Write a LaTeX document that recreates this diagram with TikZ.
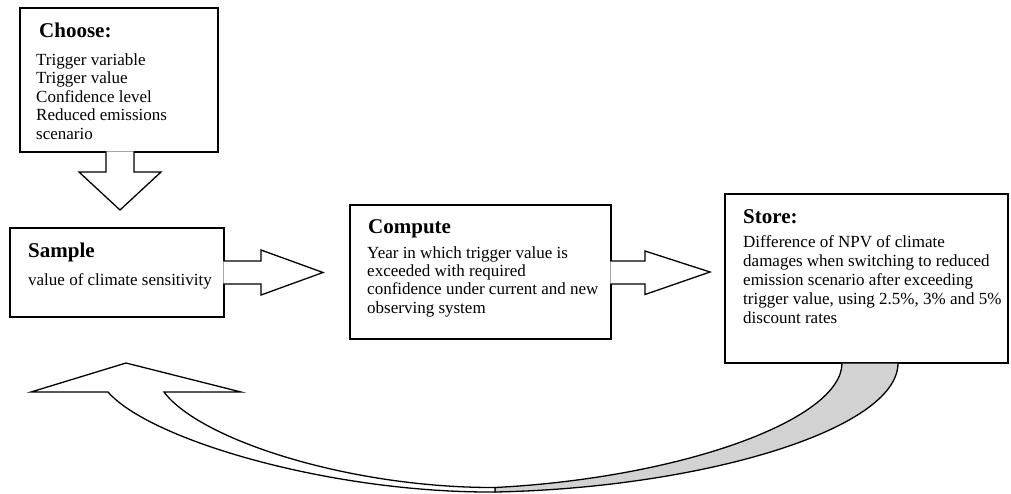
\documentclass[tikz,border=0pt]{standalone}
\usepackage{fontspec}
\setmainfont{Liberation Serif}
\usetikzlibrary{calc}
\tikzset{
  box/.style={draw,line width=1.3pt,fill=white,inner sep=0,outer sep=0},
  title/.style={font=\fontsize{21}{24}\selectfont\bfseries,inner sep=0,anchor=base west},
  body/.style={font=\fontsize{17}{18.5}\selectfont,inner sep=0,anchor=base west,align=left},
  fat arrow/.style={line width=1.3pt,fill=white,line join=miter},
  back arrow/.style={line width=1.3pt,line join=miter}
}
\begin{document}
\begin{tikzpicture}[x=1pt,y=-1pt]
    \useasboundingbox (0,0) rectangle (1011,493);
    % Boxes
    \node[box,minimum width=198pt,minimum height=144pt] (choose)  at (119,80)    {};
    \node[box,minimum width=214pt,minimum height=89pt]  (sample)  at (117,272.5) {};
    \node[box,minimum width=261pt,minimum height=134pt] (compute) at (480.5,272) {};
    \node[box,minimum width=283pt,minimum height=169pt] (store)   at (866.5,278.5) {};
    % Block arrows between the boxes
    \filldraw[fat arrow] ($(choose.south)+(-13,-0.7)$) -- ++(0,20.7) -- ++(-27,0)
      -- ($(choose.south)+(1,58)$) -- ($(choose.south)+(42,20)$) -- ++(-27,0) -- ++(0,-20.7);
    \filldraw[fat arrow] ($(sample.east)+(-0.7,-11.5)$) -- ++(37.7,0) -- ++(0,-11)
      -- ($(sample.east)+(99,0)$) -- ($(sample.east)+(37,22.5)$) -- ++(0,-11) -- ++(-37.7,0);
    \filldraw[fat arrow] ($(compute.east)+(-0.7,-11)$) -- ++(34.7,0) -- ++(0,-10)
      -- ($(compute.east)+(99,0)$) -- ($(compute.east)+(34,22.5)$) -- ++(0,-10.5) -- ++(-34.7,0);
    % Return arrow from store back to sample
    \coordinate (ret1) at ($(store.south west)+(117,0)$);
    \coordinate (ret2) at ($(store.south west)+(173,0)$);
    \coordinate (twistA) at (495,492);
    \coordinate (twistB) at (495,487.5);
    \coordinate (tip) at (126,363);
    \filldraw[back arrow,fill=gray!35] (ret2) .. controls +(0,67) and (700,488) .. (twistA)
      -- (twistB) .. controls (680,478) and ($(ret1)+(0,57)$) .. (ret1) -- cycle;
    \filldraw[back arrow,fill=white] (108,392) .. controls (150,440) and (330,493) .. (twistA)
      -- (twistB) .. controls (350,488) and (200,440) .. (164,392)
      -- (241,392) -- (tip) -- (31,392) -- cycle;
    % Labels (multi-line texts sit on the baseline of their last line)
    \node[title] (chooseT) at (39,37) {Choose:};
    \node[body] (chooseB) at (36,139) {Trigger variable\\Trigger value\\Confidence level\\Reduced emissions\\scenario};
    \node[title] (sampleT) at (28,257) {Sample};
    \node[body] (sampleB) at (28,285) {value of climate sensitivity};
    \node[title] (computeT) at (368,233) {Compute};
    \node[body,font=\fontsize{17}{18.3}\selectfont] (computeB) at (367,313) {Year in which trigger value is\\exceeded with required\\confidence under current and new\\observing system};
    \node[title] (storeT) at (743,223) {Store:};
    \node[body,font=\fontsize{17}{19}\selectfont] (storeB) at (743,323) {Difference of NPV of climate\\damages when switching to reduced\\emission scenario after exceeding\\trigger value, using 2.5\%, 3\% and 5\%\\discount rates};
\end{tikzpicture}
\end{document}
